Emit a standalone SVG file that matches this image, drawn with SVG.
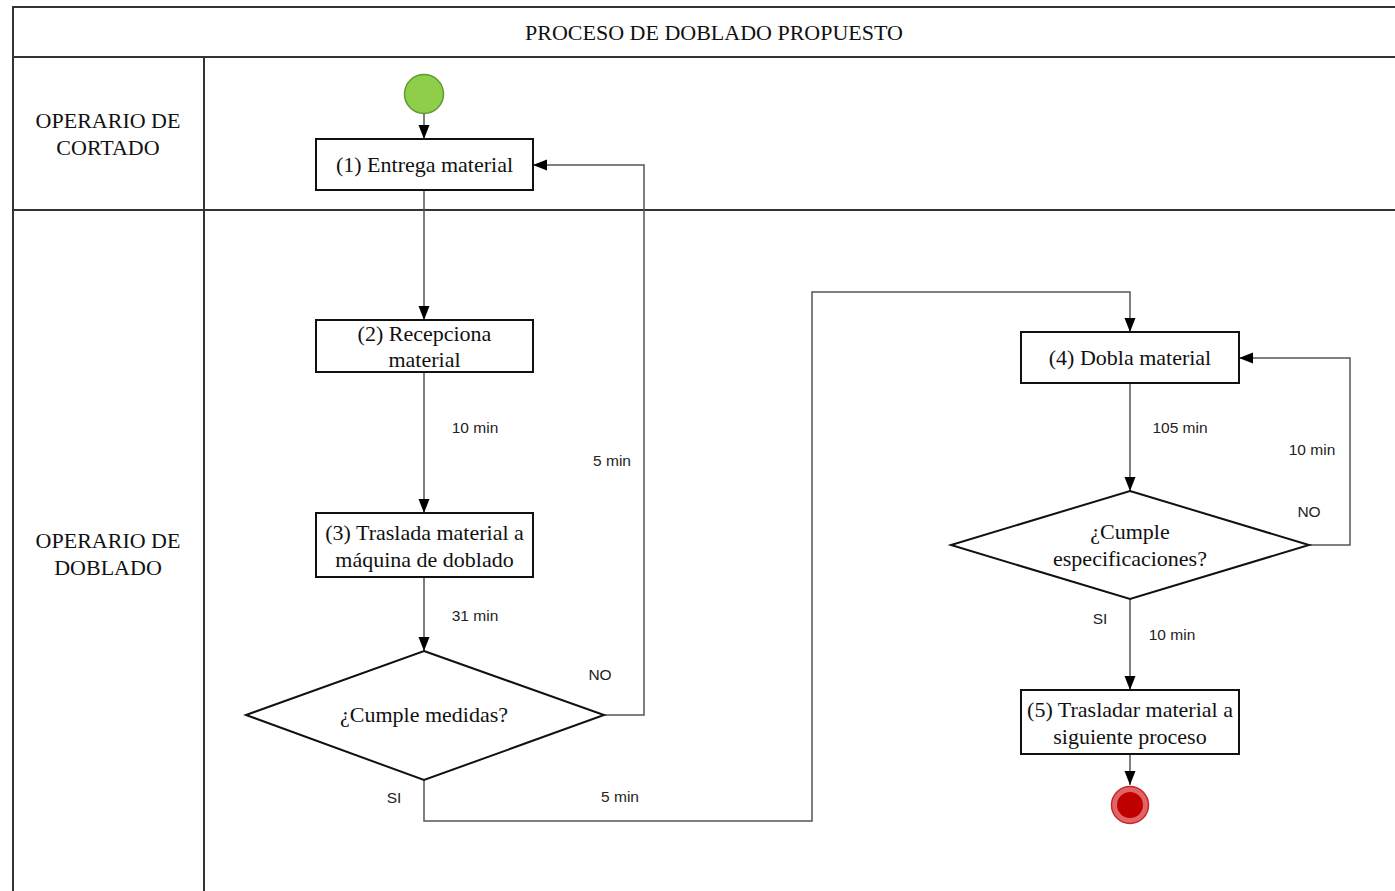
<svg xmlns="http://www.w3.org/2000/svg" width="1395" height="891" viewBox="0 0 1395 891">
  <style>
    .frame { fill: none; stroke: #333; stroke-width: 2; }
    .box { fill: #fff; stroke: #111; stroke-width: 2; }
    .conn { fill: none; stroke: #555; stroke-width: 1.5; }
    .node-text { font-family: "Liberation Serif", "Times New Roman", serif; font-size: 22px; fill: #111; text-anchor: middle; }
    .lane-text { font-family: "Liberation Serif", "Times New Roman", serif; font-size: 22px; fill: #111; text-anchor: middle; }
    .label { font-family: "Liberation Sans", Arial, sans-serif; font-size: 15.5px; fill: #222; text-anchor: middle; }
  </style>
  <defs>
    <marker id="arrow" viewBox="0 0 14 12" refX="14" refY="6" markerWidth="14" markerHeight="12" markerUnits="userSpaceOnUse" orient="auto">
      <path d="M0,0.5 L14,6 L0,11.5 Z" fill="#000"/>
    </marker>
  </defs>
  <rect width="1395" height="891" fill="#fff"/>

  <!-- pool frame and lanes -->
  <g id="pool">
    <path class="frame" d="M13,891 V7 H1395 M13,57 H1395 M13,210 H1395 M204,57 V891"/>
    <text class="lane-text" x="714" y="40">PROCESO DE DOBLADO PROPUESTO</text>
  </g>
  <g id="lane-cortado">
    <text class="lane-text" x="108" y="128">OPERARIO DE</text>
    <text class="lane-text" x="108" y="155">CORTADO</text>
  </g>
  <g id="lane-doblado">
    <text class="lane-text" x="108" y="548">OPERARIO DE</text>
    <text class="lane-text" x="108" y="575">DOBLADO</text>
  </g>

  <!-- connectors -->
  <g id="connectors">
    <path class="conn" d="M424,114 V139" marker-end="url(#arrow)"/>
    <path class="conn" d="M424,190 V320" marker-end="url(#arrow)"/>
    <path class="conn" d="M424,372 V513" marker-end="url(#arrow)"/>
    <path class="conn" d="M424,577 V651" marker-end="url(#arrow)"/>
    <path class="conn" d="M604,715 H644 V165 H533" marker-end="url(#arrow)"/>
    <path class="conn" d="M424,780 V821 H812 V292 H1130 V332" marker-end="url(#arrow)"/>
    <path class="conn" d="M1130,383 V491" marker-end="url(#arrow)"/>
    <path class="conn" d="M1309,545 H1350 V358 H1239" marker-end="url(#arrow)"/>
    <path class="conn" d="M1130,599 V690" marker-end="url(#arrow)"/>
    <path class="conn" d="M1130,754 V785" marker-end="url(#arrow)"/>
    <text class="label" x="475" y="433">10 min</text>
    <text class="label" x="475" y="621">31 min</text>
    <text class="label" x="612" y="466">5 min</text>
    <text class="label" x="600" y="680">NO</text>
    <text class="label" x="394" y="803">SI</text>
    <text class="label" x="620" y="802">5 min</text>
    <text class="label" x="1180" y="433">105 min</text>
    <text class="label" x="1312" y="455">10 min</text>
    <text class="label" x="1309" y="517">NO</text>
    <text class="label" x="1100" y="624">SI</text>
    <text class="label" x="1172" y="640">10 min</text>
  </g>

  <!-- nodes -->
  <g id="start">
    <circle cx="424" cy="94" r="19.5" fill="#8fce4a" stroke="#5f9b2e" stroke-width="1.5"/>
  </g>
  <g id="n1">
    <rect class="box" x="316" y="139" width="217" height="51"/>
    <text class="node-text" x="424.5" y="172">(1) Entrega material</text>
  </g>
  <g id="n2">
    <rect class="box" x="316" y="320" width="217" height="52"/>
    <text class="node-text" x="424.5" y="341">(2) Recepciona</text>
    <text class="node-text" x="424.5" y="367">material</text>
  </g>
  <g id="n3">
    <rect class="box" x="316" y="513" width="217" height="64"/>
    <text class="node-text" x="424.5" y="540">(3) Traslada material a</text>
    <text class="node-text" x="424.5" y="567">máquina de doblado</text>
  </g>
  <g id="d1">
    <polygon class="box" points="424,651 604,715 424,780 246,715"/>
    <text class="node-text" x="424" y="722">¿Cumple medidas?</text>
  </g>
  <g id="n4">
    <rect class="box" x="1021" y="332" width="218" height="51"/>
    <text class="node-text" x="1130" y="365">(4) Dobla material</text>
  </g>
  <g id="d2">
    <polygon class="box" points="1130,491 1309,545 1130,599 951,545"/>
    <text class="node-text" x="1130" y="539">¿Cumple</text>
    <text class="node-text" x="1130" y="566">especificaciones?</text>
  </g>
  <g id="n5">
    <rect class="box" x="1021" y="690" width="218" height="64"/>
    <text class="node-text" x="1130" y="717">(5) Trasladar material a</text>
    <text class="node-text" x="1130" y="744">siguiente proceso</text>
  </g>
  <g id="end">
    <circle cx="1130" cy="805" r="18.5" fill="#e06666" stroke="#c62828" stroke-width="1.5"/>
    <circle cx="1130" cy="805" r="13" fill="#c00000"/>
  </g>
</svg>
